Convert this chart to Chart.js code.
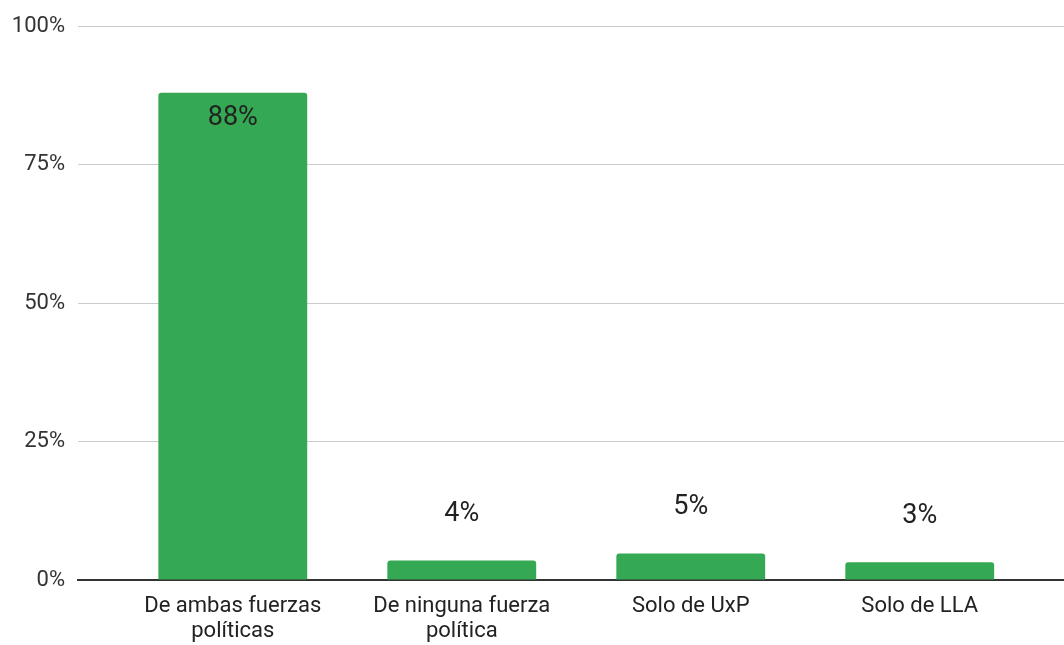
<!DOCTYPE html>
<html>
<head>
<meta charset="utf-8">
<script src="https://cdn.jsdelivr.net/npm/chart.js@4"></script>
<style>
  html, body { margin: 0; padding: 0; background: #fff; }
  #wrap { width: 1064px; height: 645px; }
</style>
</head>
<body>
<div id="wrap"><canvas id="c" width="1064" height="645"></canvas></div>
<script>
const categories = [
  ["De ambas fuerzas", "políticas"],
  ["De ninguna fuerza", "política"],
  ["Solo de UxP"],
  ["Solo de LLA"]
];
const values = [88, 3.5, 4.8, 3.2];
const dataLabels = ["88%", "4%", "5%", "3%"];
const yTicks = [0, 25, 50, 75, 100];

const labelPlugin = {
  id: 'valueLabels',
  afterDatasetsDraw(chart) {
    const ctx = chart.ctx;
    const meta = chart.getDatasetMeta(0);
    ctx.save();
    ctx.font = '27px Roboto';
    ctx.fillStyle = '#222222';
    ctx.textAlign = 'center';
    ctx.textBaseline = 'middle';
    meta.data.forEach((bar, i) => {
      const inside = values[i] > 20;
      const y = inside ? bar.y + 26 : bar.y - 46;
      ctx.fillText(dataLabels[i], bar.x, y);
    });
    ctx.restore();
  }
};

new Chart(document.getElementById('c'), {
  type: 'bar',
  data: {
    datasets: [{
      data: values.map((v, i) => ({ x: i, y: v })),
      backgroundColor: '#34A853',
      borderRadius: 3,
      borderSkipped: 'start',
      categoryPercentage: 1,
      barPercentage: 0.65
    }]
  },
  options: {
    responsive: false,
    animation: false,
    layout: { padding: { top: 25, right: 0, left: 0, bottom: 0 } },
    plugins: { legend: { display: false }, tooltip: { enabled: false } },
    scales: {
      x: {
        type: 'linear',
        offset: false,
        bounds: 'data',
        min: -0.676,
        max: 3.63,
        afterBuildTicks(scale) {
          scale.ticks = categories.map((_, i) => ({ value: i }));
        },
        afterFit(scale) { scale.height = 65; },
        grid: { display: false, drawTicks: false, offset: false },
        border: { display: true, color: '#333333', width: 2 },
        ticks: {
          autoSkip: false,
          maxRotation: 0,
          padding: 14,
          color: '#222222',
          font: { family: 'Roboto', size: 22, lineHeight: 1.15 },
          callback: (v) => categories[Math.round(v)] || ''
        }
      },
      y: {
        min: 0,
        max: 100,
        afterBuildTicks(scale) {
          scale.ticks = yTicks.map(v => ({ value: v }));
        },
        afterFit(scale) { scale.width = 78; },
        grid: { color: '#cccccc', lineWidth: 1, drawTicks: false },
        border: { display: false },
        ticks: {
          padding: 13,
          color: '#333333',
          font: { family: 'Roboto', size: 22 },
          callback: (v) => v + '%'
        }
      }
    }
  },
  plugins: [labelPlugin]
});
</script>
</body>
</html>
